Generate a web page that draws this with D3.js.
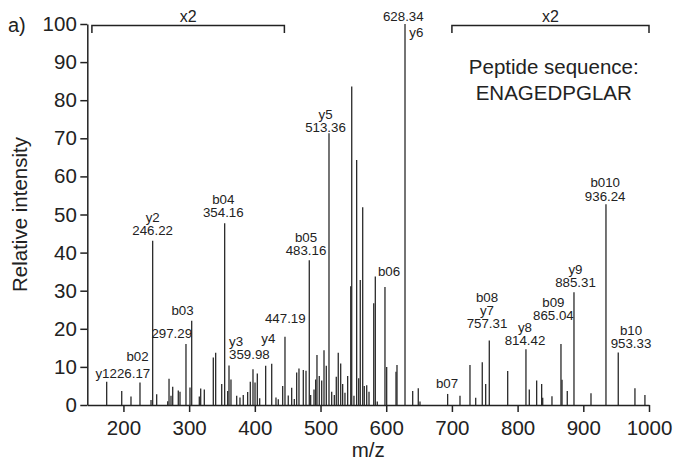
<html>
<meta charset="utf-8">
<script src="https://d3js.org/d3.v7.min.js"></script>
<style>
  body { margin: 0; background: white; }
  svg text { font-family: "Liberation Sans", Arial, Helvetica, sans-serif; fill: #222; }
</style>
<body>
<div id="chart"></div>
<script>

// ---- data (m/z, relative intensity as drawn) ----
var peakMz = [174.5, 197.4, 211.5, 225.2, 242.0, 244.5, 250.6, 267.4, 269.4, 272.4,
  275.0, 283.5, 286.1, 295.2, 301.3, 303.9, 315.5, 317.6, 323.1, 336.8,
  340.4, 349.6, 354.1, 358.7, 360.7, 363.7, 372.4, 377.4, 382.4, 389.1,
  393.1, 397.2, 400.3, 403.8, 407.4, 416.5, 425.7, 432.2, 435.7, 442.4,
  445.9, 450.9, 456.1, 460.1, 463.7, 467.2, 473.8, 477.9, 482.9, 485.0,
  490.1, 492.6, 494.6, 498.1, 501.8, 505.3, 508.8, 512.9, 517.0, 521.0,
  524.0, 527.0, 530.7, 533.7, 537.2, 541.3, 546.0, 547.5, 550.9, 555.0,
  558.1, 560.5, 564.2, 566.6, 570.3, 573.8, 581.0, 583.4, 586.4, 598.1,
  600.7, 614.9, 616.4, 628.6, 640.3, 648.8, 651.4, 693.5, 712.3, 727.5,
  736.2, 746.2, 751.4, 756.9, 784.9, 812.7, 817.8, 829.0, 836.6, 838.2,
  852.3, 866.0, 867.6, 875.6, 885.8, 911.7, 934.5, 953.2, 978.6, 993.8]

var peakInt = [6.1, 3.7, 2.2, 5.9, 1.3, 43.1, 2.8, 1.0, 6.9, 2.4,
  4.8, 3.8, 3.5, 16.0, 4.6, 22.1, 2.2, 4.3, 4.1, 12.5,
  13.7, 5.5, 47.7, 3.7, 10.4, 6.7, 2.4, 2.0, 2.6, 3.4,
  6.1, 9.4, 5.9, 8.3, 1.8, 10.3, 10.8, 2.0, 1.5, 5.0,
  17.9, 2.5, 4.5, 1.6, 8.5, 9.6, 9.2, 9.0, 38.0, 2.6,
  4.1, 6.7, 13.1, 7.6, 6.4, 14.4, 10.3, 71.3, 3.5, 2.6,
  7.4, 13.7, 10.9, 5.5, 3.2, 7.6, 31.2, 83.6, 2.4, 64.3,
  7.0, 32.8, 51.9, 5.0, 5.2, 3.5, 26.7, 33.7, 0.9, 31.0,
  10.0, 8.7, 10.5, 100, 3.7, 4.4, 0.9, 2.9, 2.4, 10.5,
  1.9, 11.2, 5.5, 16.9, 8.9, 14.6, 4.1, 6.4, 5.5, 1.9,
  2.3, 16.0, 6.6, 3.7, 29.6, 3.1, 52.7, 13.8, 4.4, 2.6]

// fragment annotations: lines top to bottom, anchored at (mz, intensity) of the bottom line baseline
var fragLabels = [
  {text: ["y1"], mz: 178.8, at: 7.1, anchor: "end"},
  {text: ["226.17"], mz: 178.8, at: 7.1, anchor: "start"},
  {text: ["b02"], mz: 221.4, at: 11.5, anchor: "middle"},
  {text: ["y2", "246.22"], mz: 244.5, at: 44.6, anchor: "middle"},
  {text: ["b03"], mz: 289.9, at: 23.6, anchor: "middle"},
  {text: ["297.29"], mz: 273.5, at: 17.5, anchor: "middle"},
  {text: ["b04", "354.16"], mz: 352.0, at: 49.3, anchor: "middle"},
  {text: ["y3", "359.98"], mz: 360.7, at: 12.0, anchor: "start"},
  {text: ["y4"], mz: 420.5, at: 16.2, anchor: "middle"},
  {text: ["447.19"], mz: 446.4, at: 21.6, anchor: "middle"},
  {text: ["b05", "483.16"], mz: 477.9, at: 39.3, anchor: "middle"},
  {text: ["y5", "513.36"], mz: 507.6, at: 71.7, anchor: "middle"},
  {text: ["628.34"], mz: 626.0, at: 100.9, anchor: "middle"},
  {text: ["y6"], mz: 635.1, at: 96.5, anchor: "start"},
  {text: ["b06"], mz: 604.2, at: 33.9, anchor: "middle"},
  {text: ["b07"], mz: 692.5, at: 4.4, anchor: "middle"},
  {text: ["b08", "y7", "757.31"], mz: 753.4, at: 20.1, anchor: "middle"},
  {text: ["y8", "814.42"], mz: 811.2, at: 15.7, anchor: "middle"},
  {text: ["b09", "865.04"], mz: 854.4, at: 22.3, anchor: "middle"},
  {text: ["y9", "885.31"], mz: 888.1, at: 31.0, anchor: "middle"},
  {text: ["b010", "936.24"], mz: 933.3, at: 53.6, anchor: "middle"},
  {text: ["b10", "953.33"], mz: 972.6, at: 15.0, anchor: "middle"}
]

// regions magnified x2
var zoomRanges = [[152, 445], [700, 1000]]
var zoomText = "x2"

var xTicks = [200, 300, 400, 500, 600, 700, 800, 900, 1000]
var yTicks = [0, 10, 20, 30, 40, 50, 60, 70, 80, 90, 100]
var sequenceLines = ["Peptide sequence:", "ENAGEDPGLAR"]

// ---- layout ----
var width = 674, height = 464
var mLeft = 87.3, mRight = 649, mTop = 24, mBottom = 405
var lineGap = 13.3

var svg = d3.select("#chart").append("svg")
  .attr("width", width)
  .attr("height", height)

var x = d3.scaleLinear().domain([145, 1000]).range([mLeft, mRight])
var y = d3.scaleLinear().domain([0, 100]).range([mBottom, mTop])

// peaks
var peaks = peakMz.map(function(d, i){ return {mz: d, v: peakInt[i]} })
svg.append("g").selectAll("line")
  .data(peaks)
  .enter().append("line")
  .attr("x1", function(d){ return x(d.mz) })
  .attr("x2", function(d){ return x(d.mz) })
  .attr("y1", y(0))
  .attr("y2", function(d){ return y(d.v) })
  .attr("stroke", "#2a2a2a")
  .attr("stroke-width", 1.3)

// axes
var xAxis = svg.append("g")
  .attr("transform", "translate(0," + mBottom + ")")
  .call(d3.axisBottom(x).tickValues(xTicks).tickFormat(d3.format("d"))
    .tickSize(7).tickSizeOuter(0).tickPadding(8))
var yAxis = svg.append("g")
  .attr("transform", "translate(" + mLeft + ",0)")
  .call(d3.axisLeft(y).tickValues(yTicks).tickFormat(d3.format("d"))
    .tickSize(7).tickSizeOuter(0).tickPadding(3.5))

;[xAxis, yAxis].forEach(function(g){
  g.select(".domain").attr("stroke", "#222").attr("stroke-width", 1.5)
  g.selectAll(".tick line").attr("stroke", "#222").attr("stroke-width", 1.5)
  g.selectAll(".tick text")
    .attr("fill", "#222")
    .style("font-size", "20.5px")
    .style("font-family", "'Liberation Sans', Arial, sans-serif")
})

// fragment labels
fragLabels.forEach(function(d){
  var n = d.text.length
  d.text.forEach(function(t, i){
    svg.append("text")
      .attr("x", x(d.mz))
      .attr("y", y(d.at) - (n - 1 - i) * lineGap)
      .attr("text-anchor", d.anchor)
      .style("font-size", "13.3px")
      .text(t)
  })
})

// x2 brackets
zoomRanges.forEach(function(r){
  var by = mTop + 1.5
  svg.append("path")
    .attr("d", "M" + x(r[0]) + "," + (by + 7.5) + "V" + by + "H" + x(r[1]) + "V" + (by + 7.5))
    .attr("fill", "none")
    .attr("stroke", "#222")
    .attr("stroke-width", 1.5)
  svg.append("text")
    .attr("x", (x(r[0]) + x(r[1])) / 2)
    .attr("y", by - 4)
    .attr("text-anchor", "middle")
    .style("font-size", "16px")
    .text(zoomText)
})

// peptide sequence
sequenceLines.forEach(function(t, i){
  svg.append("text")
    .attr("x", x(855))
    .attr("y", y(87) + i * 26)
    .attr("text-anchor", "middle")
    .style("font-size", "20.5px")
    .text(t)
})

// axis titles
svg.append("text")
  .attr("x", (mLeft + mRight) / 2)
  .attr("y", 457)
  .attr("text-anchor", "middle")
  .style("font-size", "20.5px")
  .text("m/z")

svg.append("text")
  .attr("transform", "translate(27," + ((mTop + mBottom) / 2) + ") rotate(-90)")
  .attr("text-anchor", "middle")
  .style("font-size", "20.5px")
  .text("Relative intensity")

svg.append("text")
  .attr("x", 8)
  .attr("y", 32)
  .style("font-size", "20px")
  .text("a)")

</script>
</body>
</html>
